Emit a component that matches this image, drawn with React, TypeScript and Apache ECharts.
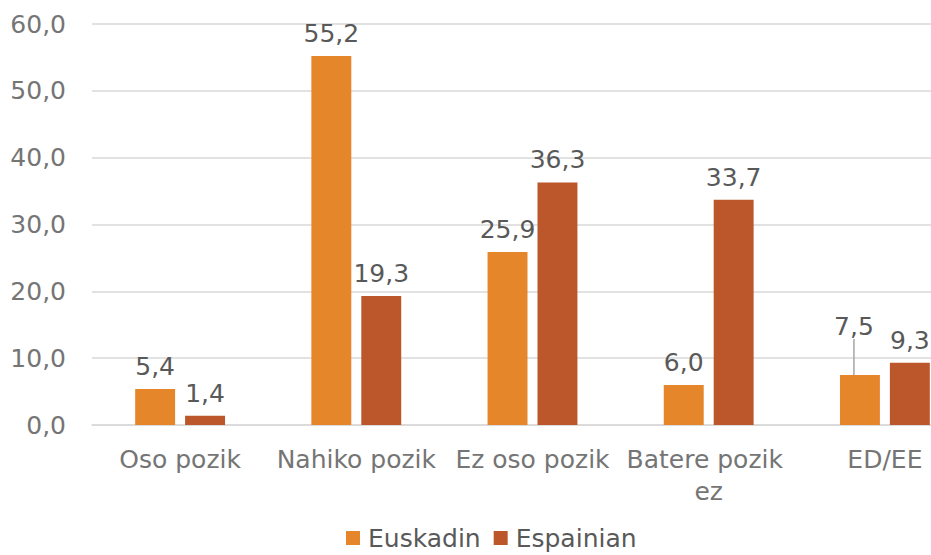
import React, { useEffect, useRef } from "react";
import * as echarts from "echarts";

const categories = ["Oso pozik", "Nahiko pozik", "Ez oso pozik", "Batere pozik ez", "ED/EE"];
const euskadin = [5.4, 55.2, 25.9, 6.0, 7.5];
const espainian = [1.4, 19.3, 36.3, 33.7, 9.3];
const seriesNames = ["Euskadin", "Espainian"];

const fmt = (v: number) => v.toFixed(1).replace(".", ",");
const FONT = "DejaVu Sans, Verdana, sans-serif";

export default function App() {
  const ref = useRef<HTMLDivElement>(null);
  useEffect(() => {
    if (!ref.current) return;
    const chart = echarts.init(ref.current, undefined, { renderer: "svg" });
    const labelBase = {
      show: true,
      position: "top" as const,
      distance: 10,
      color: "#595959",
      fontSize: 25,
      fontFamily: FONT,
      formatter: (p: any) => fmt(p.value),
    };
    chart.setOption({
      animation: false,
      textStyle: { fontFamily: FONT },
      grid: {
        left: 92,
        right: -42,
        top: 24,
        bottom: 130,
        containLabel: false,
        outerBoundsMode: "none",
      },
      legend: {
        bottom: 3,
        left: 346,
        itemWidth: 14,
        itemHeight: 14,
        itemGap: 13,
        icon: "rect",
        padding: 0,
        textStyle: {
          fontSize: 25,
          lineHeight: 28,
          color: "#595959",
          fontFamily: FONT,
          padding: [0, 0, 0, 3],
        },
        data: seriesNames,
      },
      xAxis: {
        type: "category",
        data: categories,
        axisLine: { show: true, lineStyle: { color: "#d9d9d9", width: 1.5 } },
        axisTick: { show: false },
        axisLabel: {
          color: "#757575",
          fontSize: 25,
          fontFamily: FONT,
          margin: 18,
          interval: 0,
          width: 176,
          overflow: "break",
          lineHeight: 32,
        },
      },
      yAxis: {
        type: "value",
        min: 0,
        max: 60,
        interval: 10,
        axisLine: { show: false },
        axisTick: { show: false },
        splitLine: { lineStyle: { color: "#d9d9d9", width: 1.5 } },
        axisLabel: {
          color: "#757575",
          fontSize: 25,
          fontFamily: FONT,
          margin: 26,
          formatter: (v: number) => fmt(v),
        },
      },
      series: [
        {
          name: seriesNames[0],
          type: "bar",
          data: euskadin.map((v, i) =>
            i === 4
              ? { value: v, labelLine: { show: true, lineStyle: { color: "#a6a6a6", width: 1.5 } } }
              : v
          ),
          itemStyle: { color: "#E5862A" },
          barGap: "25%",
          barCategoryGap: "49%",
          label: labelBase,
          labelLayout: (p: any) => (p.dataIndex === 4 ? { dx: -6, dy: -26 } : {}),
        },
        {
          name: seriesNames[1],
          type: "bar",
          data: espainian,
          itemStyle: { color: "#BC572C" },
          barGap: "25%",
          barCategoryGap: "49%",
          label: labelBase,
        },
      ],
    });
    return () => chart.dispose();
  }, []);
  return <div ref={ref} style={{ width: 931, height: 555, position: "absolute", left: 0, top: 0 }} />;
}
